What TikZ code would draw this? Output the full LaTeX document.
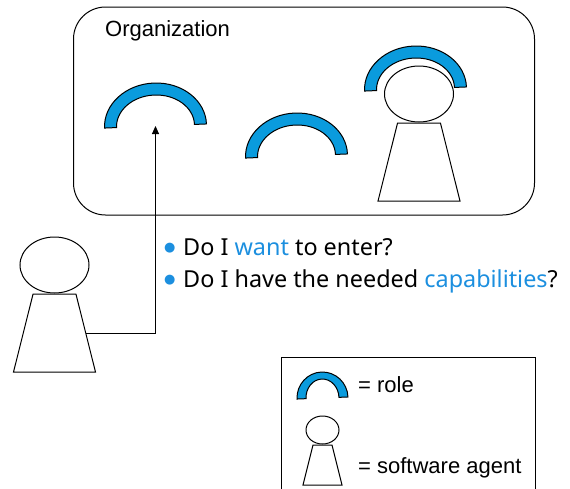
\documentclass[tikz,border=0pt]{standalone}
\usepackage{fontspec}
\setmainfont{Liberation Sans}
\newfontfamily\askfont{Noto Sans}
\newfontfamily\dotfont{DejaVu Sans}
\usepackage{xcolor}
\usetikzlibrary{arrows.meta, positioning, shapes.geometric}
\definecolor{roleblue}{HTML}{0A9BDD}
\definecolor{askblue}{HTML}{1C8FDF}

\newcommand{\askdot}{\makebox[19pt][l]{\textcolor{askblue}{\raisebox{3.3pt}{\dotfont\fontsize{13}{13}\selectfont ●}}}}

\tikzset{
  pics/role/.style n args={4}{code={
    \draw[line width=1pt,fill=roleblue] (-#1,0) arc[start angle=180,end angle=0,x radius=#1,y radius=#2]
      -- (#3,0) arc[start angle=0,end angle=180,x radius=#3,y radius=#4] -- cycle;
  }}
}

\begin{document}
\begin{tikzpicture}[x=1pt,y=1pt,node distance=0pt]
    \tikzstyle{head}=[shape=ellipse,draw,line width=1pt,inner sep=0pt,minimum width=69pt,minimum height=56pt]
    \tikzstyle{body}=[shape=trapezium,draw,line width=1pt,inner sep=1pt,trapezium stretches=true,trapezium angle=65.5,minimum width=82pt,minimum height=78pt]
    \tikzstyle{smallhead}=[head,minimum width=33pt,minimum height=28pt]
    \tikzstyle{smallbody}=[body,trapezium angle=62.3,minimum width=39pt,minimum height=40pt]
    \tikzstyle{label}=[inner sep=0pt,anchor=base west,font=\fontsize{22}{26}\selectfont]
    \tikzstyle{ask}=[inner sep=0pt,anchor=base west,font=\askfont\fontsize{23.4}{28}\selectfont]

    \useasboundingbox (0,0) rectangle (570,-488);

    % organization
    \node[draw,line width=1pt,rounded corners=32pt,minimum width=461pt,minimum height=208pt] (org) at (304,-111) {};
    \node[label] (orgname) at (105,-36) {Organization};

    \coordinate (R1) at (155.5,-126);
    \pic[rotate=2.3] at (R1) {role={51}{43}{39}{31}};
    \coordinate (R2) at (296.5,-156);
    \pic[rotate=2.3] at (R2) {role={51}{43}{39}{31}};

    \node[head] (H2) at (419,-94) {};
    \node[body,below=of H2] (B2) {};
    \coordinate (R3) at (415.5,-89);
    \pic[rotate=2.3] at (R3) {role={51}{43}{39}{31}};

    % agent outside
    \node[head] (H1) at (54.5,-265) {};
    \node[body,below=of H1] (B1) {};
    \draw[line width=1pt,-{Triangle[width=7pt,length=8pt]}] (B1.east) -| (R1);

    % questions
    \node[ask] (Q1) at (164,-255) {\askdot Do I \textcolor{askblue}{want} to enter?};
    \node[ask] (Q2) at (164,-287) {\askdot Do I have the needed \textcolor{askblue}{capabilities}?};

    % legend
    \coordinate (L1) at (281,-490);
    \coordinate (L2) at (535,-357);
    \draw[line width=1pt] (L1) |- (L2) -- (L2 |- L1);
    \coordinate (R4) at (322.5,-398);
    \pic[rotate=2.3] at (R4) {role={25.5}{26}{16.5}{19}};
    \node[label] (rolename) at (358,-392) {= role};
    \node[smallhead] (H3) at (322.5,-430) {};
    \node[smallbody,below=of H3] (B3) {};
    \node[label] (agentname) at (358,-473) {= software agent};
\end{tikzpicture}
\end{document}
